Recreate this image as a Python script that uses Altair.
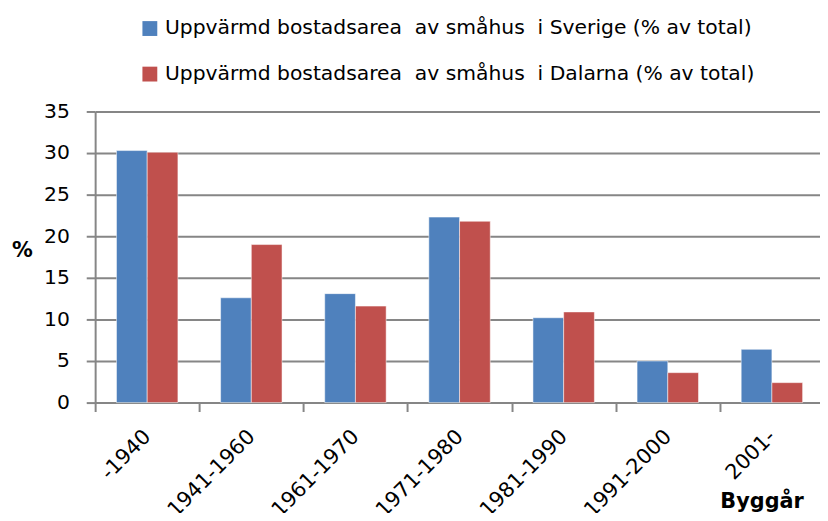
import altair as alt
import pandas as pd

categories = ["-1940", "1941-1960", "1961-1970", "1971-1980", "1981-1990", "1991-2000", "2001-"]
sverige = [30.3, 12.6, 13.1, 22.3, 10.2, 5.0, 6.4]
dalarna = [30.1, 19.0, 11.6, 21.8, 10.9, 3.6, 2.4]
series_names = [
    "Uppvärmd bostadsarea\u00a0 av småhus\u00a0 i Sverige (% av total)",
    "Uppvärmd bostadsarea\u00a0 av småhus\u00a0 i Dalarna (% av total)",
]
colors = ["#4F81BD", "#C0504D"]
y_ticks = [0, 5, 10, 15, 20, 25, 30, 35]

rows = []
for c, a, b in zip(categories, sverige, dalarna):
    rows.append({"period": c, "serie": series_names[0], "value": a})
    rows.append({"period": c, "serie": series_names[1], "value": b})
df = pd.DataFrame(rows)

FONT = "DejaVu Sans"
GRID = "#868686"

chart = alt.Chart(df).mark_bar(stroke="#ffffff", strokeOpacity=0.5, strokeWidth=1).encode(
    x=alt.X(
        "period:N",
        sort=categories,
        scale=alt.Scale(paddingInner=0, paddingOuter=0, range=[0, 736]),
        axis=alt.Axis(
            title="Byggår",
            titleFontWeight="bold",
            titleFontSize=21,
            titleFont=FONT,
            titleColor="#000000",
            titleX=673,
            titleY=100,
            titleAlign="center",
            titleBaseline="middle",
            labelAngle=-45,
            labelAlign="right",
            labelBaseline="middle",
            labelFontSize=21,
            labelFont=FONT,
            labelColor="#000000",
            labelPadding=22,
            tickBand="extent",
            tickSize=9,
            tickColor=GRID,
            tickWidth=2,
            domainColor=GRID,
            domainWidth=2,
            grid=False,
        ),
    ),
    xOffset=alt.XOffset(
        "serie:N",
        sort=series_names,
        scale=alt.Scale(paddingInner=0, paddingOuter=0.695),
    ),
    y=alt.Y(
        "value:Q",
        scale=alt.Scale(domain=[0, 35], nice=False),
        axis=alt.Axis(
            values=y_ticks,
            title="%",
            titleAngle=0,
            titleFontWeight="bold",
            titleFontSize=21,
            titleFont=FONT,
            titleColor="#000000",
            titleX=-74,
            titleY=140,
            titleAlign="center",
            titleBaseline="middle",
            labelFontSize=20.5,
            labelFont=FONT,
            labelColor="#000000",
            labelPadding=17,
            tickSize=9,
            tickColor=GRID,
            tickWidth=2,
            domainColor=GRID,
            domainWidth=2,
            grid=True,
            gridColor=GRID,
            gridWidth=2,
        ),
    ),
    color=alt.Color(
        "serie:N",
        sort=series_names,
        scale=alt.Scale(domain=series_names, range=colors),
        legend=alt.Legend(
            title=None,
            orient="none",
            legendX=45,
            legendY=-94,
            direction="vertical",
            symbolType="square",
            symbolSize=225,
            symbolStrokeWidth=0,
            labelFontSize=20.5,
            labelFont=FONT,
            labelColor="#000000",
            labelOffset=5,
            rowPadding=25,
            labelLimit=800,
            padding=0,
        ),
    ),
).properties(
    width=732,
    height=294,
    autosize=alt.AutoSizeParams(type="none"),
    padding={"left": 88, "top": 102, "right": 0, "bottom": 109},
).configure_view(stroke=None)

chart.save("out.html", embed_options={"renderer": "svg", "actions": False})
